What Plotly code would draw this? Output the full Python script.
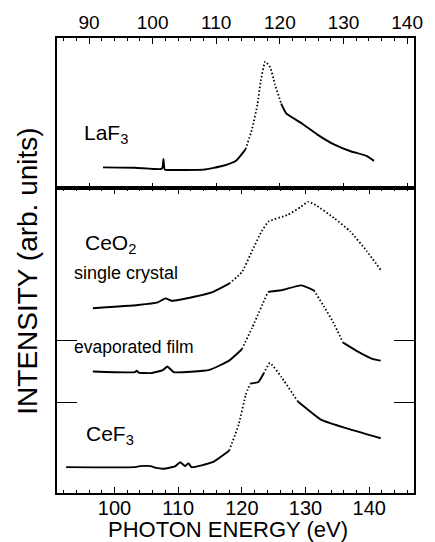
import plotly.graph_objects as go

# ---- data (photon energy in eV, intensity in arbitrary units) ----
laf3_e = [92.2, 97.2, 101.3, 101.55, 101.7, 101.9, 102.4, 108.0, 111.1, 113.1, 114.6, 115.6,
          116.5, 117.0, 117.7, 118.5, 119.2, 120.2, 121.0, 123.4, 125.9, 128.5, 131.0, 133.6, 134.8]
laf3_i = [21.3, 21.0, 19.7, 21.0, 30.0, 19.0, 18.7, 19.0, 23.0, 28.0, 39.7, 59.7,
          86.3, 109.7, 129.0, 123.0, 106.3, 86.3, 76.3, 66.3, 54.7, 44.7, 38.0, 33.0, 28.0]

ceo2_e = [96.6, 103.7, 106.8, 108.0, 109.0, 112.5, 115.5, 118.0, 120.0, 121.6, 123.1, 124.2,
          127.2, 129.3, 130.4, 131.6, 134.5, 137.0, 139.6, 141.8]
ceo2_i = [188.0, 191.3, 194.0, 198.0, 195.7, 199.7, 204.7, 213.0, 224.7, 246.3, 266.3, 276.3,
          283.0, 291.3, 296.3, 293.0, 279.7, 266.3, 246.3, 227.0]

film_e = [96.6, 103.2, 103.5, 103.8, 105.7, 107.6, 108.3, 109.3, 114.9, 118.0, 120.0, 121.6,
          124.1, 126.2, 129.3, 131.3, 132.9, 134.4, 135.9, 138.0, 140.6, 141.8]
film_i = [123.7, 123.0, 124.5, 122.5, 122.0, 125.0, 128.7, 123.0, 125.3, 134.7, 146.3, 168.0,
          204.7, 206.3, 211.3, 206.3, 189.7, 173.0, 153.0, 144.7, 136.3, 134.7]

cef3_e = [92.4, 103.1, 104.0, 105.7, 106.5, 107.7, 109.5, 110.3, 111.1, 111.6, 112.1, 115.4,
          118.0, 119.5, 120.6, 121.3, 122.6, 123.4, 124.4, 126.2, 128.8, 132.4, 137.0, 141.8]
cef3_i = [26.3, 26.3, 27.3, 27.3, 25.5, 24.7, 27.0, 31.3, 27.3, 30.3, 26.3, 31.3,
          43.0, 69.7, 99.7, 111.3, 113.0, 121.3, 132.3, 118.0, 93.0, 74.7, 64.7, 55.7]

# energy intervals drawn as dotted lines (as in the original plot)
laf3_dot = [(114.0, 120.5)]
ceo2_dot = [(119.0, 142.0)]
film_dot = [(119.5, 124.1), (131.3, 135.9)]
cef3_dot = [(118.5, 121.3), (123.4, 128.8)]

top_ticks = [90, 100, 110, 120, 130, 140]
bottom_ticks = [100, 110, 120, 130, 140]
offset_ticks = [92, 155]

FONT = "Liberation Sans, Arial, Helvetica, sans-serif"

fig = go.Figure()


def add_curve(xs, ys, dotted, xaxis, yaxis):
    # split polyline into consecutive solid / dotted pieces
    segs = []
    for k in range(len(xs) - 1):
        mid = 0.5 * (xs[k] + xs[k + 1])
        is_dot = any(a <= mid <= b for a, b in dotted)
        if segs and segs[-1][0] == is_dot:
            segs[-1][1].append(k + 1)
        else:
            segs.append([is_dot, [k, k + 1]])
    for is_dot, idx in segs:
        fig.add_trace(go.Scatter(
            x=[xs[i] for i in idx], y=[ys[i] for i in idx],
            mode="lines", xaxis=xaxis, yaxis=yaxis, showlegend=False,
            hoverinfo="skip",
            line=dict(color="black", width=1.8 if is_dot else 1.9,
                      dash="1.5px,2.2px" if is_dot else "solid", shape="spline", smoothing=0.4),
        ))


add_curve(laf3_e, laf3_i, laf3_dot, "x2", "y2")
add_curve(ceo2_e, ceo2_i, ceo2_dot, "x", "y")
add_curve(film_e, film_i, film_dot, "x", "y")
add_curve(cef3_e, cef3_i, cef3_dot, "x", "y")

split = 310 / 463

fig.update_layout(
    width=435, height=542,
    margin=dict(l=57, r=13, t=30, b=49),
    paper_bgcolor="white", plot_bgcolor="white",
    font=dict(family=FONT, color="black"),
    xaxis=dict(
        domain=[0, 1], range=[90.97, 147.03], anchor="y",
        tickvals=bottom_ticks, ticks="inside", ticklen=6, tickwidth=1.3, tickcolor="black",
        minor=dict(dtick=2, tick0=0, ticks="inside", ticklen=3, tickwidth=1, tickcolor="black"),
        showline=True, linecolor="black", linewidth=1.5, mirror="ticks",
        showgrid=False, zeroline=False, tickfont=dict(size=20, family=FONT),
        ticklabelstandoff=-4,
    ),
    yaxis=dict(
        domain=[0, split], range=[0, 310], anchor="x",
        tickvals=offset_ticks, ticks="inside", ticklen=20, tickwidth=1.3, tickcolor="black",
        showticklabels=False, showline=True, linecolor="black", linewidth=1.5,
        mirror="ticks", showgrid=False, zeroline=False,
    ),
    xaxis2=dict(
        domain=[0, 1], range=[84.97, 141.08], anchor="y2", side="top",
        tickvals=top_ticks, ticks="inside", ticklen=6, tickwidth=1.3, tickcolor="black",
        minor=dict(dtick=2, tick0=0, ticks="inside", ticklen=3, tickwidth=1, tickcolor="black"),
        showline=True, linecolor="black", linewidth=1.5, mirror="ticks",
        showgrid=False, zeroline=False, tickfont=dict(size=19, family=FONT),
    ),
    yaxis2=dict(
        domain=[split, 1], range=[0, 153], anchor="x2",
        ticks="", showticklabels=False, showline=True, linecolor="black", linewidth=1.5,
        mirror=True, showgrid=False, zeroline=False,
    ),
)

ann = [
    dict(text="LaF<sub>3</sub>", x=0.071, y=0.79, size=21),
    dict(text="CeO<sub>2</sub>", x=0.074, y=0.547, size=21),
    dict(text="single crystal", x=0.041, y=0.484, size=18),
    dict(text="evaporated film", x=0.041, y=0.320, size=17.5),
    dict(text="CeF<sub>3</sub>", x=0.077, y=0.128, size=21),
]
for a in ann:
    fig.add_annotation(text=a["text"], x=a["x"], y=a["y"], xref="paper", yref="paper",
                       xanchor="left", yanchor="middle", showarrow=False,
                       font=dict(size=a["size"], family=FONT, color="black"))

fig.add_annotation(text="PHOTON ENERGY (eV)", x=0.479, y=-0.081, xref="paper", yref="paper",
                   xanchor="center", yanchor="middle", showarrow=False,
                   font=dict(size=22, family=FONT, color="black"))
fig.add_annotation(text="INTENSITY (arb. units)", x=-0.082, y=0.488, xref="paper", yref="paper",
                   xanchor="center", yanchor="middle", textangle=-90, showarrow=False,
                   font=dict(size=28, family=FONT, color="black"))

fig.write_html("out.html")
